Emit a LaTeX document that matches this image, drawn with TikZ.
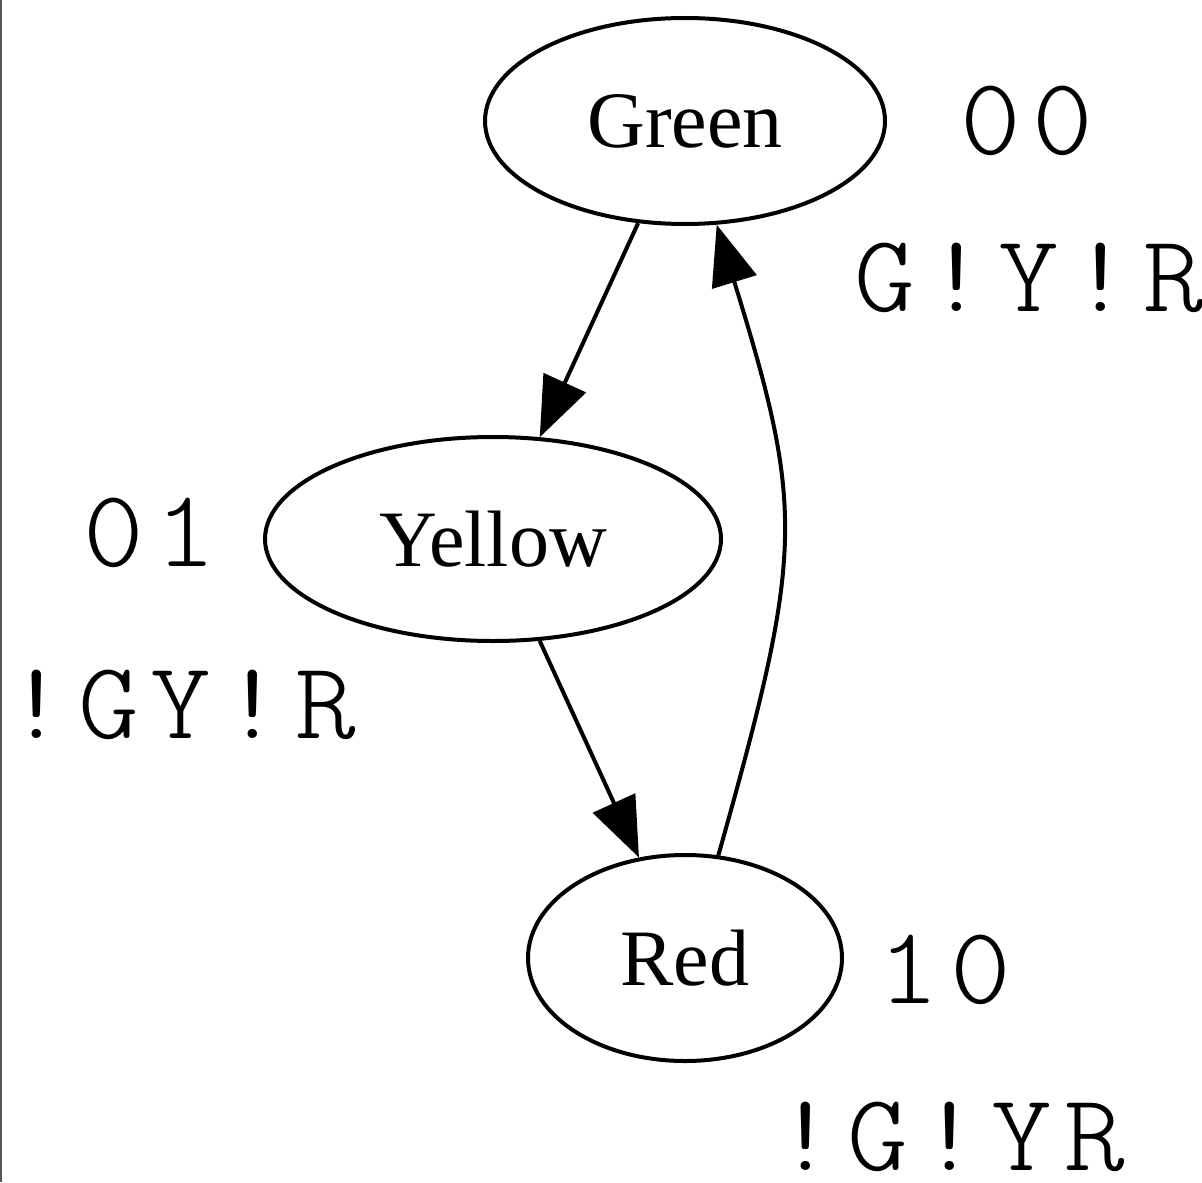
\documentclass[tikz,border=0pt]{standalone}
\usepackage{fontspec}
\usetikzlibrary{shapes.geometric,arrows.meta}
\newfontfamily\statefont{Liberation Serif}
\newfontfamily\codefont[LetterSpace=10]{Latin Modern Mono Light}
\begin{document}
\begin{tikzpicture}[x=0.5pt,y=-0.5pt,
  state/.style={draw,ellipse,line width=2pt,inner sep=0pt,
    font=\statefont\fontsize{40pt}{48pt}\selectfont},
  code/.style={inner sep=0pt,xscale=1.05,
    font=\codefont\fontsize{55pt}{66pt}\selectfont},
  edge/.style={line width=2pt,-{Triangle[length=30pt,width=23pt]}}]
\path[use as bounding box] (0,0) rectangle (1202,1182);
\draw[line width=1pt,gray!70!black] (1,0) -- (1,1182);
% states
\node[state,minimum width=200pt,minimum height=103pt] (G) at (685,121) {Green};
\node[state,minimum width=228pt,minimum height=102pt] (Y) at (493,539) {Yellow};
\node[state,minimum width=157pt,minimum height=103pt] (R) at (685,958) {Red};
% state codes and outputs
\node[code] (G0) at (1027,121) {00};
\node[code] (G1) at (1029,278) {G!Y!R};
\node[code] (Y0) at (150,533) {01};
\node[code] (Y1) at (181,705) {!GY!R};
\node[code] (R0) at (945,970) {10};
\node[code] (R1) at (950,1137) {!G!YR};
% transitions
\draw[edge] (G) -- (Y);
\draw[edge] (Y) -- (R);
\draw[edge] (R.72) .. controls (804,551) and (805,511) .. (G.287);
\end{tikzpicture}
\end{document}
